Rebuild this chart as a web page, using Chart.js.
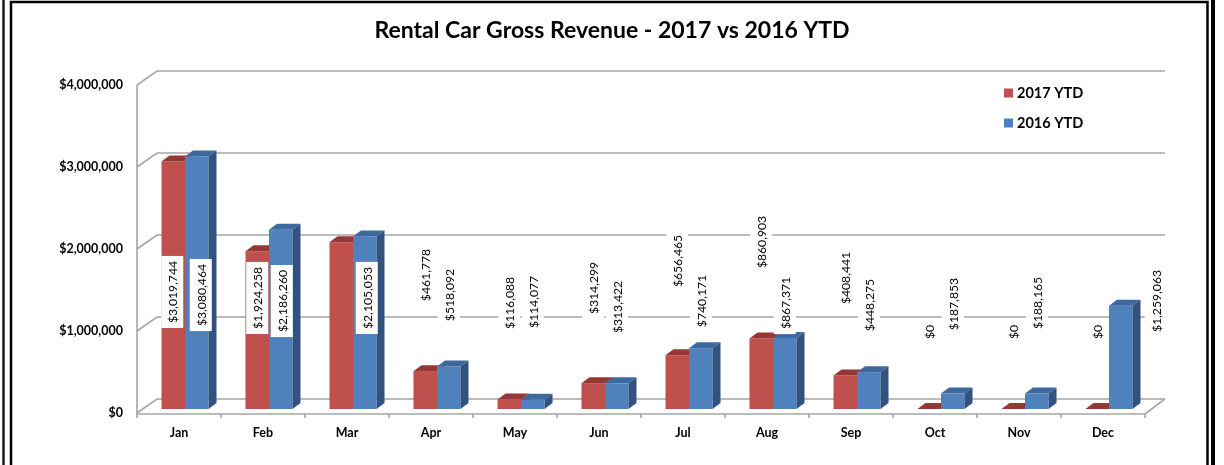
<!DOCTYPE html>
<html><head><meta charset="utf-8">
<script src="https://cdn.jsdelivr.net/npm/chart.js@4.4.1/dist/chart.umd.min.js"></script>
<style>html,body{margin:0;padding:0;background:#fff;overflow:hidden}#wrap{position:relative;width:1224px;height:465px}</style>
</head><body><div id="wrap"><canvas id="c" width="1224" height="465"></canvas></div>
<script>
// ---- data ----
const categories = ['Jan','Feb','Mar','Apr','May','Jun','Jul','Aug','Sep','Oct','Nov','Dec'];
const seriesNames = ['2017 YTD','2016 YTD'];
const rev2017 = [3019744,1924258,2033000,461778,116088,314299,656465,860903,408441,0,0,0];
const rev2016 = [3080464,2186260,2105053,518092,114077,313422,740171,867371,448275,187853,188165,1259063];
const yMax = 4000000;
const yStep = 1000000;
// ---- data-label layout (value height of label centre; null = no label) ----
const labelAt2017 = [1427000,1354000,null,1634000,1293000,1476000,1805000,2037000,1598000,939000,939000,939000];
const labelAt2016 = [1390000,1317000,1354000,1390000,1305000,1244000,1317000,1293000,1268000,1280000,1293000,1317000];
const labelDx2017 = [-1,0,0,0,0,0,0,0,0,0,0,0];
const labelDx2016 = [4,1,2,0,0,0,0,0,0,0,0,35];

const FONT = 'Lato, "Liberation Sans", sans-serif';
const colors = ['#C0504D','#4F81BD'];
const topColors = ['#953735','#3D699F'];
const sideColors = ['#7A2D2B','#32537F'];
const money = v => '$' + Math.round(v).toLocaleString('en-US');

const FRONT_DX = -6, FRONT_DY = 4, BACK_DX = 14, BACK_DY = -10;
const BAR_DX = 8, BAR_DY = -6;

const framePlugin = {
  id: 'frame',
  afterDraw(chart) {
    const ctx = chart.ctx;
    ctx.save();
    ctx.strokeStyle = '#1a1a1a';
    ctx.lineWidth = 2.5;
    ctx.beginPath(); ctx.moveTo(3.5, 0); ctx.lineTo(3.5, 465); ctx.stroke();
    ctx.strokeStyle = '#000';
    ctx.lineWidth = 2.5;
    ctx.beginPath();
    ctx.moveTo(11, 470); ctx.lineTo(11, 2); ctx.lineTo(1207.5, 2); ctx.lineTo(1207.5, 470);
    ctx.stroke();
    ctx.lineWidth = 4;
    ctx.beginPath(); ctx.moveTo(1213, 0); ctx.lineTo(1213, 465); ctx.stroke();
    ctx.restore();
  }
};

const wallPlugin = {
  id: 'wall',
  beforeDatasetsDraw(chart) {
    const ctx = chart.ctx, ys = chart.scales.y, xs = chart.scales.x, a = chart.chartArea;
    const fl = a.left + FRONT_DX, bl = a.left + BACK_DX, br = a.right + BACK_DX, fr = a.right + FRONT_DX;
    ctx.save();
    ctx.strokeStyle = '#a6a6a6';
    ctx.lineWidth = 1.6;
    for (let v = 0; v <= yMax; v += yStep) {
      const p = ys.getPixelForValue(v);
      ctx.beginPath();
      ctx.moveTo(fl, p + FRONT_DY);
      ctx.lineTo(bl, p + BACK_DY);
      ctx.lineTo(br, p + BACK_DY);
      ctx.stroke();
    }
    const p0 = ys.getPixelForValue(0), pTop = ys.getPixelForValue(yMax);
    ctx.beginPath();
    ctx.moveTo(fl, pTop + FRONT_DY); ctx.lineTo(fl, p0 + FRONT_DY + 1);
    ctx.lineTo(fr, p0 + FRONT_DY + 1); ctx.lineTo(br, p0 + BACK_DY);
    ctx.stroke();
    const half = (xs.getPixelForValue(1) - xs.getPixelForValue(0)) / 2;
    for (let i = 0; i <= categories.length; i++) {
      const x = (i < categories.length ? xs.getPixelForValue(i) - half : xs.getPixelForValue(i - 1) + half) + FRONT_DX;
      ctx.beginPath(); ctx.moveTo(x, p0 + FRONT_DY + 1); ctx.lineTo(x, p0 + FRONT_DY + 5); ctx.stroke();
    }
    ctx.restore();
  }
};

function faces(ctx, bar, di, clipRect) {
  const l = bar.x - bar.width / 2, r = bar.x + bar.width / 2, t = bar.y, b = bar.base;
  ctx.save();
  if (clipRect) {
    ctx.beginPath();
    ctx.rect(0, 0, 1224, 465);
    ctx.rect(clipRect.l, clipRect.t, clipRect.r - clipRect.l, clipRect.b - clipRect.t);
    ctx.clip('evenodd');
  }
  ctx.fillStyle = topColors[di];
  ctx.beginPath();
  ctx.moveTo(l, t); ctx.lineTo(r, t); ctx.lineTo(r + BAR_DX, t + BAR_DY); ctx.lineTo(l + BAR_DX, t + BAR_DY); ctx.closePath();
  ctx.fill();
  ctx.fillStyle = sideColors[di];
  ctx.beginPath();
  ctx.moveTo(r, t); ctx.lineTo(r + BAR_DX, t + BAR_DY); ctx.lineTo(r + BAR_DX, b + BAR_DY); ctx.lineTo(r, b); ctx.closePath();
  ctx.fill();
  ctx.restore();
}

const bar3dPlugin = {
  id: 'bar3d',
  afterDatasetsDraw(chart) {
    const ctx = chart.ctx;
    const m0 = chart.getDatasetMeta(0).data, m1 = chart.getDatasetMeta(1).data;
    m0.forEach((bar, i) => {
      const o = m1[i];
      faces(ctx, bar, 0, {l: o.x - o.width / 2, r: o.x + o.width / 2 + BAR_DX, t: Math.min(o.y, o.base), b: o.base});
      faces(ctx, o, 1, null);
    });
    const ys = chart.scales.y;
    const sets = [[rev2017, labelAt2017, labelDx2017], [rev2016, labelAt2016, labelDx2016]];
    ctx.save();
    ctx.font = '12.2px ' + FONT;
    ctx.textAlign = 'center';
    ctx.textBaseline = 'middle';
    sets.forEach((s, di) => {
      chart.getDatasetMeta(di).data.forEach((bar, i) => {
        const at = s[1][i];
        if (at === null) return;
        const txt = money(s[0][i]);
        const cx = bar.x + s[2][i], cy = ys.getPixelForValue(at);
        const w = ctx.measureText(txt).width;
        ctx.save();
        ctx.translate(cx, cy);
        ctx.rotate(-Math.PI / 2);
        ctx.fillStyle = '#fff';
        ctx.fillRect(-w / 2 - 5, -11, w + 10, 22);
        ctx.fillStyle = '#000';
        ctx.fillText(txt, 0, 1);
        ctx.restore();
      });
    });
    ctx.restore();
  }
};

const legendPlugin = {
  id: 'legend3d',
  afterDraw(chart) {
    const ctx = chart.ctx, a = chart.chartArea;
    ctx.save();
    ctx.font = 'bold 14.5px ' + FONT;
    ctx.textBaseline = 'middle';
    ctx.textAlign = 'left';
    seriesNames.forEach((name, i) => {
      const x = a.right - 147, y = 93 + i * 30;
      ctx.fillStyle = colors[i];
      ctx.fillRect(x, y - 4.5, 9, 9);
      ctx.fillStyle = '#000';
      ctx.fillText(name, x + 13, y + 0.5);
    });
    ctx.restore();
  }
};

new Chart(document.getElementById('c'), {
  type: 'bar',
  data: {
    labels: categories,
    datasets: [
      {label: seriesNames[0], data: rev2017, backgroundColor: colors[0], borderWidth: 0, categoryPercentage: 0.56, barPercentage: 1.0},
      {label: seriesNames[1], data: rev2016, backgroundColor: colors[1], borderWidth: 0, categoryPercentage: 0.56, barPercentage: 1.0}
    ]
  },
  options: {
    responsive: false,
    animation: false,
    devicePixelRatio: 1,
    layout: {padding: {left: 0, right: 0, top: 0, bottom: 0}},
    plugins: {
      legend: {display: false},
      tooltip: {enabled: false},
      title: {
        display: true,
        text: 'Rental Car Gross Revenue - 2017 vs 2016 YTD',
        color: '#000',
        font: {family: FONT, size: 23, weight: 'bold'},
        padding: {top: 17, bottom: 36.4}
      }
    },
    scales: {
      x: {
        grid: {display: false, drawTicks: false},
        border: {display: false},
        ticks: {color: '#000', font: {family: FONT, size: 12.5, weight: 'bold'}, padding: 16, labelOffset: -6, maxRotation: 0},
        afterFit: s => { s.height = 56; }
      },
      y: {
        min: 0, max: yMax,
        grid: {display: false, drawTicks: false},
        border: {display: false},
        ticks: {stepSize: yStep, color: '#000', font: {family: FONT, size: 12.5, weight: 'bold'}, padding: 20, labelOffset: 4, callback: v => money(v)},
        afterFit: s => { s.width = 143; }
      },
      yRight: {
        position: 'right',
        grid: {display: false, drawTicks: false},
        border: {display: false},
        ticks: {display: false},
        afterFit: s => { s.width = 73; }
      }
    }
  },
  plugins: [wallPlugin, bar3dPlugin, legendPlugin, framePlugin]
});
</script>
</body></html>
